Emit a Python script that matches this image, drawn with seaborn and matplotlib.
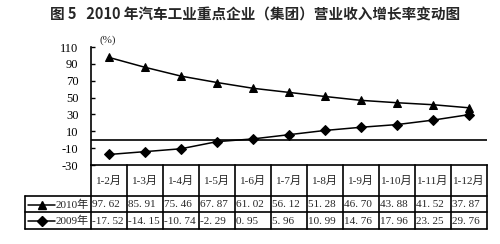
import matplotlib
matplotlib.use("Agg")
import matplotlib.pyplot as plt
import seaborn as sns
import pandas as pd

sns.set_theme(style="white")
plt.rcParams['font.family'] = ['Liberation Serif', 'Noto Sans CJK SC']

title = "图 5   2010 年汽车工业重点企业（集团）营业收入增长率变动图"
categories = ["1-2月", "1-3月", "1-4月", "1-5月", "1-6月", "1-7月",
              "1-8月", "1-9月", "1-10月", "1-11月", "1-12月"]
series_names = ["2010年", "2009年"]
values_2010 = [97.62, 85.91, 75.46, 67.87, 61.02, 56.12, 51.28, 46.70, 43.88, 41.52, 37.87]
values_2009 = [-17.52, -14.15, -10.74, -2.29, 0.95, 5.96, 10.99, 14.76, 17.96, 23.25, 29.76]
yticks = [-30, -10, 10, 30, 50, 70, 90, 110]
y_unit = "(%)"

W, H = 500, 244
fig = plt.figure(figsize=(W / 100, H / 100), dpi=100)

def px_axes(x0, y0, x1, y1):
    return fig.add_axes([x0 / W, 1 - y1 / H, (x1 - x0) / W, (y1 - y0) / H])

x_left, x_right = 91, 487
y_top, y_bot = 47, 165
ax = px_axes(x_left, y_top, x_right, y_bot)

df = pd.DataFrame({
    "cat": categories * 2,
    "val": values_2010 + values_2009,
    "series": [series_names[0]] * len(categories) + [series_names[1]] * len(categories),
})
pos = {c: i for i, c in enumerate(categories)}
df["x"] = df["cat"].map(pos)

sns.lineplot(data=df, x="x", y="val", hue="series", style="series",
             markers={"2010年": "^", "2009年": "D"}, dashes=False,
             palette={"2010年": "black", "2009年": "black"},
             markersize=6, linewidth=1.1, markeredgecolor="black",
             legend=False, ax=ax)
for ln in ax.lines:
    if ln.get_marker() == "D":
        ln.set_markersize(5)

ax.axhline(0, color="black", lw=1.2)
n = len(categories)
ax.set_xlim(-0.5, n - 0.5)
ax.set_ylim(-30, 110)
ax.set_yticks(yticks)
ax.set_yticklabels([str(t) for t in yticks], fontsize=9, family="Liberation Serif")
ax.set_xticks([])
ax.set_xlabel("")
ax.set_ylabel("")
ax.tick_params(axis="y", direction="in", length=3, width=1, pad=9, colors="black", left=True)
for s in ["top", "right"]:
    ax.spines[s].set_visible(False)
for s in ["left", "bottom"]:
    ax.spines[s].set_visible(True)
    ax.spines[s].set_color("black")
    ax.spines[s].set_linewidth(1.2)
fig.text(108 / W, 1 - 40 / H, y_unit, fontsize=8,
         ha="center", va="center", family=["Liberation Serif", "Noto Sans CJK SC"])

fig.text(255 / W, 1 - 15 / H, title, fontsize=10.5, fontweight="bold",
         ha="center", va="center", family=["Noto Sans CJK SC"])

# table
t_left = 25
colw = (x_right - x_left) / n
lab_w = (x_left - t_left) / colw
tax = px_axes(t_left, 165, x_right, 229)
tax.set_xlim(-0.5 - lab_w, n - 0.5)
tax.set_ylim(64, 0)
tax.axis("off")
rows_y = [0, 31, 47, 64]
lw = 1.2
for yy in rows_y[1:]:
    tax.plot([-0.5 - lab_w, n - 0.5], [yy, yy], color="black", lw=lw, clip_on=False)
for i in range(n + 1):
    tax.plot([i - 0.5, i - 0.5], [0, 64], color="black", lw=lw, clip_on=False)
tax.plot([-0.5 - lab_w] * 2, [31, 64], color="black", lw=lw, clip_on=False)

fam = ["Liberation Serif", "Noto Sans CJK SC"]
fs = 8
for i, c in enumerate(categories):
    tax.text(i, 15.5, c, ha="center", va="center", fontsize=fs, family=fam)
for i, v in enumerate(values_2010):
    tax.text(i - 0.46, 39.5, f"{v:.2f}".replace(".", ". "), ha="left", va="center",
             fontsize=fs, family=fam)
for i, v in enumerate(values_2009):
    tax.text(i - 0.46, 56, f"{v:.2f}".replace(".", ". "), ha="left", va="center",
             fontsize=fs, family=fam)

mk = {"2010年": ("^", 6, 39.5), "2009年": ("D", 5, 56)}
for name in series_names:
    m, ms, yy = mk[name]
    x0 = -0.5 - lab_w + 3 / colw
    x1 = -0.5 - lab_w + 30 / colw
    tax.plot([x0, x1], [yy, yy], color="black", lw=1.1, clip_on=False)
    tax.plot([(x0 + x1) / 2], [yy], marker=m, ms=ms, color="black", clip_on=False)
    tax.text(-0.5 - lab_w + 31 / colw, yy, name, ha="left", va="center", fontsize=fs, family=fam)

fig.savefig("out.png", dpi=100)
